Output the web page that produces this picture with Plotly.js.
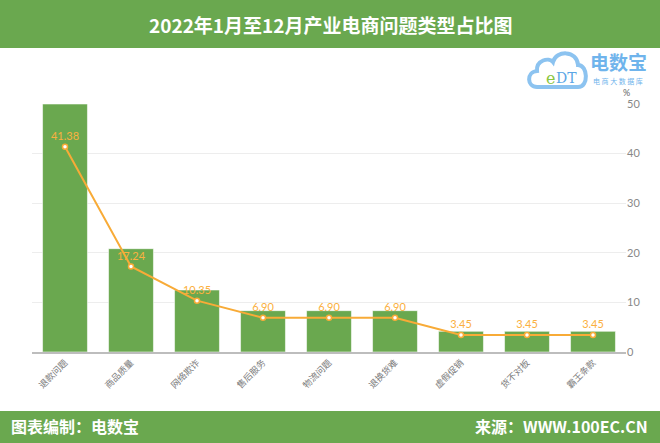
<!DOCTYPE html>
<html>
<head>
<meta charset="utf-8">
<script src="https://cdn.plot.ly/plotly-3.0.1.min.js"></script>
<style>html,body{margin:0;padding:0;background:#fff;}#chart{width:660px;height:443px;}</style>
</head>
<body>
<div id="chart"></div>
<script>
// ---- data ----
var categories = ["退款问题","商品质量","网络欺诈","售后服务","物流问题","退换货难","虚假促销","货不对板","霸王条款"];
var counts = [12, 5, 3, 2, 2, 2, 1, 1, 1];
var percents = [41.38, 17.24, 10.35, 6.90, 6.90, 6.90, 3.45, 3.45, 3.45];
var pctTicks = [0, 10, 20, 30, 40, 50];
var titleText = "2022年1月至12月产业电商问题类型占比图";
var footerLeft = "图表编制：电数宝";
var footerRight = "来源：WWW.100EC.CN";

// ---- geometry helpers (pixel -> paper) ----
var W = 660, H = 443, L = 32, R = 34, T = 104, B = 91;
var PW = W - L - R, PH = H - T - B;
function px(x){ return (x - L) / PW; }
function py(y){ return (H - B - y) / PH; }
function path(pts){
  return pts.map(function(p){
    return px(p[0]).toFixed(4) + ',' + py(p[1]).toFixed(4);
  }).join(' ');
}

var GREEN = '#6aa84f', ORANGE = '#f8ab37';
var CJK = '"Noto Sans CJK SC", "Noto Sans", sans-serif';

var traces = [
  {
    type: 'bar', x: categories, y: counts, yaxis: 'y',
    marker: {color: GREEN, line: {color: 'rgba(255,255,255,0.55)', width: 1}},
    hoverinfo: 'skip'
  },
  {
    type: 'scatter', mode: 'lines+markers+text', x: categories, y: percents, yaxis: 'y2',
    text: percents.map(function(v){ return v.toFixed(2); }),
    textposition: 'top center',
    textfont: {color: '#fbb040', size: 11, family: 'Lato, "Open Sans", sans-serif'},
    line: {color: ORANGE, width: 2},
    marker: {size: 5, color: '#fff', line: {color: ORANGE, width: 1.5}},
    cliponaxis: false,
    hoverinfo: 'skip'
  }
];

var cloud = 'M ' + path([[537,87]]) + ' C ' + path([[527,87],[526,72],[537,71]]) +
  ' C ' + path([[536,60],[549,57],[553,62]]) +
  ' C ' + path([[556,50],[577,50],[578,65]]) +
  ' C ' + path([[588,65],[589,87],[578,87]]) + ' Z';

var layout = {
  width: W, height: H,
  margin: {l: L, r: R, t: T, b: B, pad: 0},
  paper_bgcolor: '#fff', plot_bgcolor: '#fff',
  showlegend: false,
  bargap: 0.32,
  font: {family: CJK},
  xaxis: {
    type: 'category', tickangle: -45, showline: true, linecolor: '#bdbdbd', linewidth: 2,
    ticks: '', showgrid: false, zeroline: false,
    tickfont: {size: 9, color: '#7a7a7a', family: CJK}
  },
  yaxis: {range: [0, 12], visible: false, showgrid: false, fixedrange: true},
  yaxis2: {
    range: [0, 50], overlaying: 'y', side: 'right', tickvals: pctTicks,
    showgrid: true, gridcolor: '#ededed', gridwidth: 1, zeroline: false, showline: false,
    ticks: '', tickfont: {size: 11, color: '#888', family: 'Lato, "Open Sans", sans-serif'}
  },
  shapes: [
    {type: 'rect', xref: 'paper', yref: 'paper', x0: px(0), x1: px(W), y0: py(48), y1: py(0),
     fillcolor: GREEN, line: {width: 0}, layer: 'below'},
    {type: 'rect', xref: 'paper', yref: 'paper', x0: px(0), x1: px(W), y0: py(H), y1: py(411),
     fillcolor: GREEN, line: {width: 0}, layer: 'below'},
    {type: 'path', xref: 'paper', yref: 'paper', path: cloud,
     fillcolor: '#ffffff', line: {color: '#8cc3f0', width: 4}, layer: 'above'}
  ],
  annotations: [
    {xref: 'paper', yref: 'paper', x: px(330), y: py(24), text: '<b>' + titleText + '</b>',
     showarrow: false, xanchor: 'center', yanchor: 'middle',
     font: {size: 19, color: '#fff', family: CJK}},
    {xref: 'paper', yref: 'paper', x: px(9), y: py(426), text: '<b>' + footerLeft + '</b>',
     showarrow: false, xanchor: 'left', yanchor: 'middle',
     font: {size: 16, color: '#fff', family: CJK}},
    {xref: 'paper', yref: 'paper', x: px(650), y: py(426), text: '<b>' + footerRight + '</b>',
     showarrow: false, xanchor: 'right', yanchor: 'middle',
     font: {size: 16, color: '#fff', family: CJK}},
    {xref: 'paper', yref: 'paper', x: px(550), y: py(78), text: 'e',
     showarrow: false, xanchor: 'center', yanchor: 'middle',
     font: {size: 16, color: '#8cc63f', family: '"DejaVu Serif", serif'}},
    {xref: 'paper', yref: 'paper', x: px(566), y: py(78), text: 'DT',
     showarrow: false, xanchor: 'center', yanchor: 'middle',
     font: {size: 14, color: '#5aa6e6', family: '"DejaVu Serif", serif'}},
    {xref: 'paper', yref: 'paper', x: px(618), y: py(62), text: '<b>电数宝</b>',
     showarrow: false, xanchor: 'center', yanchor: 'middle',
     font: {size: 19, color: '#6fb4ec', family: CJK}},
    {xref: 'paper', yref: 'paper', x: px(618), y: py(81), text: '电 商 大 数 据 库',
     showarrow: false, xanchor: 'center', yanchor: 'middle',
     font: {size: 7, color: '#6fb4ec', family: CJK}},
    {xref: 'paper', yref: 'paper', x: px(626), y: py(93), text: '%',
     showarrow: false, xanchor: 'center', yanchor: 'middle',
     font: {size: 9, color: '#666', family: 'Lato, sans-serif'}}
  ]
};

Plotly.newPlot('chart', traces, layout, {displayModeBar: false, staticPlot: true});
</script>
</body>
</html>
